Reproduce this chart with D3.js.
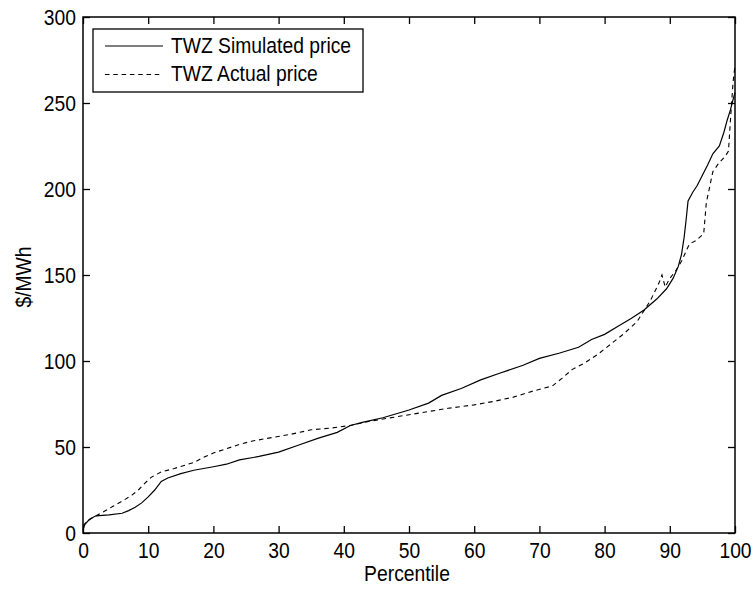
<!DOCTYPE html>
<html>
<head>
<meta charset="utf-8">
<script src="https://cdn.jsdelivr.net/npm/d3@7"></script>
<style>
  body { margin: 0; background: #fff; }
  text { font-family: "Liberation Sans", Arial, sans-serif; fill: #000; }
</style>
</head>
<body>
<script>
// simulated price duration curve (percentile, $/MWh)
let simPct = [0, 0.3, 1, 2, 4, 6, 7, 8, 9, 10, 11, 12, 13, 15, 17, 20, 22, 24, 27, 30,
  33, 36, 39, 41, 43, 46, 50, 53, 55, 58, 61, 64, 67.5, 70, 73, 76, 78, 80, 82, 84,
  86, 88, 89.5, 90.5, 91.3, 91.8, 92.2, 92.5, 92.8, 93.5, 94.2, 95, 95.8, 96.6, 97.6,
  98.3, 98.8, 99.3, 99.7, 100];
let simPrice = [2, 5, 8, 10, 10.5, 11.5, 13, 15, 17.5, 21, 25, 30, 32, 34.5, 36.5, 38.5,
  40, 42.5, 44.5, 47, 51, 55, 58.5, 62.5, 64.5, 67, 71.5, 75.5, 80, 84, 89, 93, 97.5,
  101.5, 104.5, 108, 112.5, 115.5, 120, 124.5, 129.5, 136, 142, 148, 155, 162, 172,
  182, 193, 198, 202, 208, 214, 220.5, 225, 233, 240, 246, 252, 256];

// actual price duration curve
let actPct = [0, 0.5, 1.5, 3, 4.6, 6, 7.5, 8.5, 9.5, 10.5, 12, 14, 17, 18.5, 20, 22, 24,
  26, 29, 32, 35, 38, 41, 44, 48, 52, 56, 60, 63, 66, 69, 72, 73.5, 75, 77, 79, 81,
  83, 85, 87, 88.3, 88.8, 89.3, 90, 91, 91.8, 93, 94, 95.2, 95.6, 96.6, 97.5, 98.5,
  99, 99.3, 99.7, 100];
let actPrice = [4, 6.5, 9, 12, 15.5, 18.5, 22, 25, 29, 32.5, 35.5, 37.5, 41, 44, 46.5,
  49, 51.5, 53.5, 55.5, 57.5, 60, 61, 62.5, 65, 67.5, 70, 72.5, 74.5, 76.5, 79, 82.5,
  85.5, 90, 95, 99, 104, 110, 116, 123, 135, 145, 150, 143, 148, 153, 158, 168, 170,
  174, 192, 210, 215, 219, 222, 240, 262, 272];

let xTicks = [0, 10, 20, 30, 40, 50, 60, 70, 80, 90, 100];
let yTicks = [0, 50, 100, 150, 200, 250, 300];
let seriesNames = ["TWZ Simulated price", "TWZ Actual price"];

let w = 755, h = 590;
let plotL = 83, plotR = 735, plotT = 17, plotB = 533;
let tickLen = 7;
let fontSize = 19.3;
let stretchY = 1.15; // text in the original looks a bit tall

let x = d3.scaleLinear().domain([0, 100]).range([plotL, plotR]);
let y = d3.scaleLinear().domain([0, 300]).range([plotB, plotT]);

let svg = d3.select("body").append("svg")
    .attr("width", w)
    .attr("height", h);

// move x/y into a transform so the text can be stretched about its own baseline
function stretch(sel, extra) {
    sel.each(function() {
        let t = d3.select(this);
        let tx = +t.attr("x") || 0;
        let ty = +t.attr("y") || 0;
        t.attr("x", 0).attr("y", 0)
         .attr("transform", "translate(" + tx + "," + ty + ")" + (extra || "") + " scale(1," + stretchY + ")");
    });
}

// axes, ticks pointing inward like matlab
svg.append("g")
    .attr("transform", "translate(0," + plotB + ")")
    .call(d3.axisBottom(x).tickValues(xTicks).tickSizeInner(-tickLen).tickSizeOuter(0).tickPadding(9))
    .call(g => g.select(".domain").remove());
svg.append("g")
    .attr("transform", "translate(0," + plotT + ")")
    .call(d3.axisTop(x).tickValues(xTicks).tickSizeInner(-tickLen).tickSizeOuter(0).tickFormat(""))
    .call(g => g.select(".domain").remove());
svg.append("g")
    .attr("transform", "translate(" + plotL + ",0)")
    .call(d3.axisLeft(y).tickValues(yTicks).tickSizeInner(-tickLen).tickSizeOuter(0).tickPadding(7))
    .call(g => g.select(".domain").remove());
svg.append("g")
    .attr("transform", "translate(" + plotR + ",0)")
    .call(d3.axisRight(y).tickValues(yTicks).tickSizeInner(-tickLen).tickSizeOuter(0).tickFormat(""))
    .call(g => g.select(".domain").remove());

svg.selectAll(".tick line").attr("stroke", "#000").attr("stroke-width", 1.3);
svg.selectAll(".tick text")
    .attr("font-family", "Liberation Sans, Arial, sans-serif")
    .attr("font-size", fontSize + "px")
    .attr("fill", "#000")
    .call(stretch);

svg.append("rect")
    .attr("x", plotL).attr("y", plotT)
    .attr("width", plotR - plotL).attr("height", plotB - plotT)
    .attr("fill", "none").attr("stroke", "#000").attr("stroke-width", 1.5);

let line = d3.line().x(d => x(d[0])).y(d => y(d[1]));

let simData = simPct.map((p, i) => [p, simPrice[i]]);
let actData = actPct.map((p, i) => [p, actPrice[i]]);

svg.append("path")
    .datum(actData)
    .attr("d", line)
    .attr("fill", "none")
    .attr("stroke", "#000")
    .attr("stroke-width", 1.1)
    .attr("stroke-dasharray", "4.5,3.8");

svg.append("path")
    .datum(simData)
    .attr("d", line)
    .attr("fill", "none")
    .attr("stroke", "#000")
    .attr("stroke-width", 1.2);

// labels
svg.append("text")
    .attr("x", 407)
    .attr("y", 581)
    .attr("text-anchor", "middle")
    .attr("font-size", fontSize + "px")
    .text("Percentile")
    .call(stretch);

svg.append("text")
    .attr("x", 31)
    .attr("y", 277)
    .attr("text-anchor", "middle")
    .attr("font-size", fontSize + "px")
    .text("$/MWh")
    .call(stretch, " rotate(-90)");

// legend
let legend = svg.append("g");
legend.append("rect")
    .attr("x", 93).attr("y", 29)
    .attr("width", 270).attr("height", 63)
    .attr("fill", "#fff").attr("stroke", "#000").attr("stroke-width", 1.3);

let rows = legend.selectAll(".row")
    .data(seriesNames)
    .enter()
    .append("g")
    .attr("transform", function(d, i) {
        return "translate(0," + (46 + i * 28.5) + ")";
    });

rows.append("line")
    .attr("x1", 105).attr("x2", 163)
    .attr("stroke", "#000")
    .attr("stroke-width", 1.2)
    .attr("stroke-dasharray", function(d, i) {
        return i == 1 ? "4.5,3.8" : null;
    });

rows.append("text")
    .attr("x", 171)
    .attr("y", 6.5)
    .attr("font-size", fontSize + "px")
    .text(function(d) { return d; })
    .call(stretch);
</script>
</body>
</html>
